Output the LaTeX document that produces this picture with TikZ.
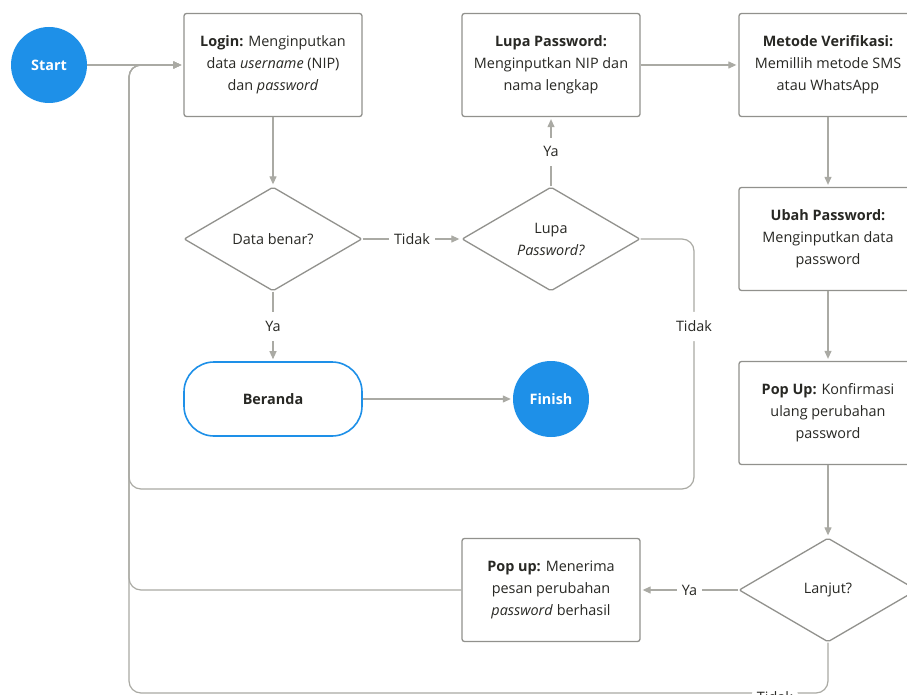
\documentclass[tikz,border=0pt]{standalone}
\usepackage{fontspec}
\setmainfont{Open Sans}
\usetikzlibrary{shapes.geometric, arrows.meta}
\definecolor{flowblue}{RGB}{30,144,232}
\definecolor{flowgray}{RGB}{170,170,164}
\definecolor{boxgray}{RGB}{145,145,141}
\definecolor{inkgray}{RGB}{40,40,36}

\begin{document}
\begin{tikzpicture}[x=1pt, y=-1pt,
  every node/.style={font=\fontsize{14.4}{22}\selectfont, text=inkgray},
  proc/.style={draw=boxgray, line width=1.3pt, rounded corners=2.5pt,
    minimum width=178pt, minimum height=103pt, align=center, inner sep=0pt},
  decide/.style={diamond, draw=boxgray, line width=1.3pt, rounded corners=2pt,
    minimum width=178pt, minimum height=104pt, align=center, inner sep=0pt},
  term/.style={circle, fill=flowblue, minimum size=76pt, text=white,
    font=\fontsize{14.4}{16}\selectfont\bfseries},
  home/.style={draw=flowblue, line width=1.6pt, rounded corners=30pt,
    minimum width=178pt, minimum height=74pt, font=\fontsize{14.4}{16}\selectfont\bfseries},
  flow/.style={draw=flowgray, line width=1.2pt, -{Triangle[length=8pt, width=7pt]}, shorten >=2pt},
  lbl/.style={fill=white, inner xsep=5pt, inner ysep=9pt}
]
  \useasboundingbox (0,0) rectangle (907,695);
  \clip (0,0) rectangle (907,695);
  \fill[white] (0,0) rectangle (907,695);
  % top row
  \node[term] (start) at (49,65) {Start};
  \node[proc] (login) at (273,65) {\textbf{Login:} Menginputkan\\data \textit{username} (NIP)\\dan \textit{password}};
  \node[proc] (lupa) at (551,65) {\textbf{Lupa Password:}\\Menginputkan NIP dan\\nama lengkap};
  \node[proc] (metode) at (828,65) {\textbf{Metode Verifikasi:}\\Memillih metode SMS\\atau WhatsApp};
  % decisions and right column
  \node[decide] (benar) at (273,239) {Data benar?};
  \node[decide] (lupaq) at (551,239) {Lupa\\\textit{Password?}};
  \node[proc] (ubah) at (828,239) {\textbf{Ubah Password:}\\Menginputkan data\\password};
  \node[proc] (konfirm) at (828,413) {\textbf{Pop Up:} Konfirmasi\\ulang perubahan\\password};
  \node[decide] (lanjut) at (828,590) {Lanjut?};
  \node[proc] (berhasil) at (551,590) {\textbf{Pop up:} Menerima\\pesan perubahan\\\textit{password} berhasil};
  % end
  \node[home] (beranda) at (273,399) {Beranda};
  \node[term] (finish) at (551,399) {Finish};
  % left rail for the loops back to login
  \coordinate (railtop) at (129,65);
  \coordinate (railbot) at (129,693);
  \coordinate (turn) at (694,489);
  \draw[flow, rounded corners=12pt] (lupaq.east) -| node[lbl, pos=0.675] {Tidak} (turn) -| (railtop) -- (login.west);
  \draw[flow, rounded corners=12pt] (berhasil.west) -| (railtop) -- (login.west);
  \draw[flow, rounded corners=12pt] (lanjut.south) |- node[lbl, pos=0.538, yshift=-4pt] {Tidak} (railbot) -- (railtop) -- (login.west);
  % straight connectors
  \draw[flow] (start) -- (login);
  \draw[flow] (login) -- (benar);
  \draw[flow] (benar) -- node[lbl] {Tidak} (lupaq);
  \draw[flow] (benar) -- node[lbl] {Ya} (beranda);
  \draw[flow] (lupaq) -- node[lbl] {Ya} (lupa);
  \draw[flow] (lupa) -- (metode);
  \draw[flow] (metode) -- (ubah);
  \draw[flow] (ubah) -- (konfirm);
  \draw[flow] (konfirm) -- (lanjut);
  \draw[flow] (lanjut) -- node[lbl] {Ya} (berhasil);
  \draw[flow] (beranda) -- (finish);
\end{tikzpicture}
\end{document}
